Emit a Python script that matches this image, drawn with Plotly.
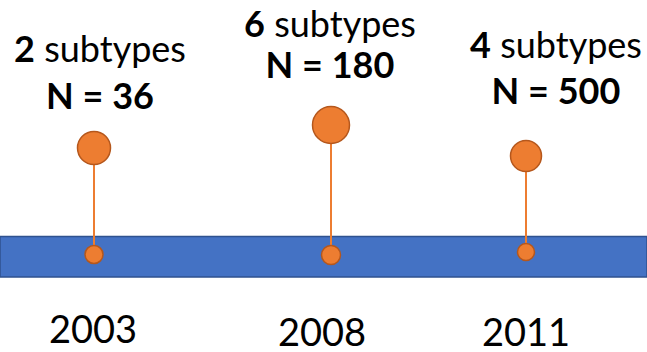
import plotly.graph_objects as go

# Timeline events
years = ["2003", "2008", "2011"]
subtypes = [2, 6, 4]
samples = [36, 180, 500]

# Layout of the timeline (axis units = pixels, y measured from the top)
W, H = 647, 352
event_x = [94, 331, 526]
bubble_y = [148, 125, 156]
anchor_y = [254.5, 255, 252]
bubble_size = [33, 37, 31]
dot_size = [18, 19, 17]
label_x = [100, 330, 556]
line1_y = [53, 28, 49]
line2_y = [100, 69, 95]
year_x = [93, 322, 526]
year_y = [333, 336, 336]
band_top, band_bottom = 236.5, 277

ORANGE = "#ED7D31"
ORANGE_EDGE = "#B5571C"
BLUE = "#4472C4"
BLUE_EDGE = "#2F528F"
FONT = "Lato, Calibri, Carlito, sans-serif"

fig = go.Figure()

# Stems connecting each event dot to its bubble
for x, y0, y1 in zip(event_x, anchor_y, bubble_y):
    fig.add_trace(go.Scatter(
        x=[x, x], y=[y0, y1], mode="lines",
        line=dict(color=ORANGE, width=2), hoverinfo="skip", showlegend=False,
    ))

# Bubbles at the top of the stems
fig.add_trace(go.Scatter(
    x=event_x, y=bubble_y, mode="markers",
    marker=dict(size=bubble_size, color=ORANGE, opacity=1,
                line=dict(color=ORANGE_EDGE, width=1.5)),
    hoverinfo="skip", showlegend=False,
))

# Dots sitting on the timeline band
fig.add_trace(go.Scatter(
    x=event_x, y=anchor_y, mode="markers",
    marker=dict(size=dot_size, color=ORANGE, opacity=1,
                line=dict(color=ORANGE_EDGE, width=1.5)),
    hoverinfo="skip", showlegend=False,
))

# "<n> subtypes" line
fig.add_trace(go.Scatter(
    x=label_x, y=line1_y, mode="text",
    text=[f"<b>{n}</b> subtypes" for n in subtypes],
    textposition="middle center", cliponaxis=False,
    textfont=dict(family=FONT, size=36, color="#000000"),
    hoverinfo="skip", showlegend=False,
))

# "N = <count>" line
fig.add_trace(go.Scatter(
    x=label_x, y=line2_y, mode="text",
    text=[f"<b>N = {n}</b>" for n in samples],
    textposition="middle center", cliponaxis=False,
    textfont=dict(family=FONT, size=36, color="#000000"),
    hoverinfo="skip", showlegend=False,
))

# Year labels under the band
fig.add_trace(go.Scatter(
    x=year_x, y=year_y, mode="text",
    text=years, textposition="middle center", cliponaxis=False,
    textfont=dict(family=FONT, size=38, color="#000000"),
    hoverinfo="skip", showlegend=False,
))

# Blue timeline band spanning the full width
fig.add_shape(
    type="rect", xref="paper", yref="y", x0=0, x1=1, y0=band_top, y1=band_bottom,
    fillcolor=BLUE, line=dict(color=BLUE_EDGE, width=1.5), layer="below",
)

fig.update_layout(
    width=W, height=H,
    margin=dict(l=0, r=0, t=0, b=0),
    paper_bgcolor="white", plot_bgcolor="white",
    xaxis=dict(range=[0, W], visible=False, fixedrange=True),
    yaxis=dict(range=[H, 0], visible=False, fixedrange=True),
)

fig.write_html("out.html")
